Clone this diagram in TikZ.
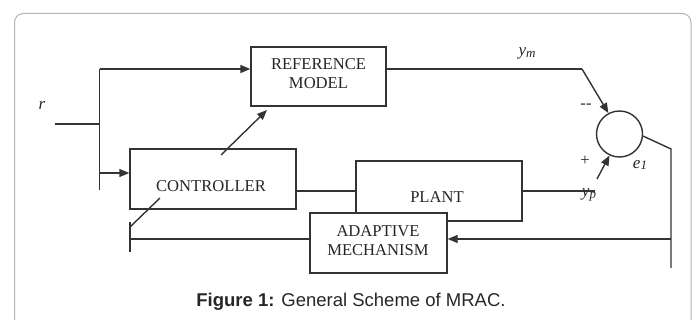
\documentclass[tikz,border=0pt]{standalone}
\usepackage{fontspec}
\setmainfont{Liberation Serif}
\newfontfamily\capfont{Liberation Sans}
\usetikzlibrary{arrows.meta}
\definecolor{linec}{HTML}{333333}
\definecolor{framec}{HTML}{B4B4B4}
\begin{document}
\begin{tikzpicture}[x=1pt,y=-1pt,
  blk/.style={draw=linec, line width=1.4pt, minimum width=#1, inner sep=0pt},
  txt/.style={text=black!85, font=\fontsize{16.6}{18.5}\selectfont, inner sep=0pt, align=center},
  lbl/.style={text=black!85, font=\fontsize{17}{18}\selectfont\itshape, inner sep=0pt},
  ln/.style={draw=linec, line width=1.4pt},
  arr/.style={ln, -{Triangle[length=10pt,width=8pt]}}]
\useasboundingbox (0,0) rectangle (696,320);
\draw[framec, line width=1pt, rounded corners=9pt] (14.5,330) -- (14.5,13.5) -- (691,13.5) -- (691,330);
% blocks
\node[blk=135pt, minimum height=59pt] (ref) at (318.5,76.5) {};
\node[blk=166pt, minimum height=60pt] (ctrl) at (213,179) {};
\node[blk=166pt, minimum height=60pt] (plant) at (439,191) {};
\node[blk=137pt, minimum height=60pt, fill=white] (adapt) at (378.5,243) {};
\node[draw=linec, line width=1.4pt, circle, minimum size=46pt, inner sep=0pt] (sum) at (619.5,134) {};
% block texts
\node[txt] (reftext) at (318.5,73.5) {REFERENCE\\[0pt]MODEL};
\node[txt] (ctrltext) at (211,186) {CONTROLLER};
\node[txt] (planttext) at (437,197) {PLANT};
\node[txt] (adapttext) at (378,240.5) {ADAPTIVE\\[0pt]MECHANISM};
% labels
\node[lbl] (rlbl) at (42,105) {r};
\node[lbl] (ymlbl) at (527,53) {y\raisebox{-0.25ex}{\fontsize{13}{14}\selectfont m}};
\node[lbl] (yplbl) at (589,195) {y\raisebox{-0.25ex}{\fontsize{13}{14}\selectfont p}};
\node[lbl] (elbl) at (640,165) {e\raisebox{-0.25ex}{\fontsize{13}{14}\selectfont 1}};
\node[txt] (minus) at (586,106) {{-}{-}};
\node[txt] (plus) at (585,161) {+};
% coordinates
\coordinate (rin) at (55,124);
\coordinate (rj) at (99.5,124);
\coordinate (vt) at (99.5,69);
\coordinate (vb) at (99.5,190);
\coordinate (vc) at (99.5,173);
\coordinate (ca) at (221,155);
\coordinate (ra) at (267,110);
\coordinate (ymk) at (582,69);
\coordinate (ypk) at (595,191);
\coordinate (pa) at (597,179);
\coordinate (ek) at (671,149);
\coordinate (eb) at (671,268);
\coordinate (ej) at (671,239);
\coordinate (al) at (130,239);
\coordinate (at) at (130,222);
\coordinate (ab) at (130,252);
\coordinate (d1) at (130,227);
\coordinate (d2) at (160,198);
% connectors
\draw[ln] (rin) -- (rj);
\draw[ln] (vt) -- (vb);
\draw[arr] (vt) -- (vt -| ref.west);
\draw[arr] (vc) -- (vc -| ctrl.west);
\draw[arr] (ca) -- (ra);
\draw[ln] (ctrl.east |- plant.west) -- (plant.west);
\draw[ln] (plant.east) -- (ypk);
\draw[arr] (pa) -- (sum.245);
\draw[ln] (ymk -| ref.east) -- (ymk);
\draw[arr] (ymk) -- (sum.118);
\draw[ln] (sum.-5) -- (ek) -- (eb);
\draw[arr] (ej) -- (ej -| adapt.east);
\draw[ln] (al -| adapt.west) -- (al);
\draw[ln] (at) -- (ab);
\draw[ln] (d1) -- (d2);
% caption
\node[inner sep=0pt, anchor=base, text=black!85, font=\capfont\fontsize{18.5}{20}\selectfont] (cap) at (351,307) {\textbf{Figure 1:} General Scheme of MRAC.};
\end{tikzpicture}
\end{document}
